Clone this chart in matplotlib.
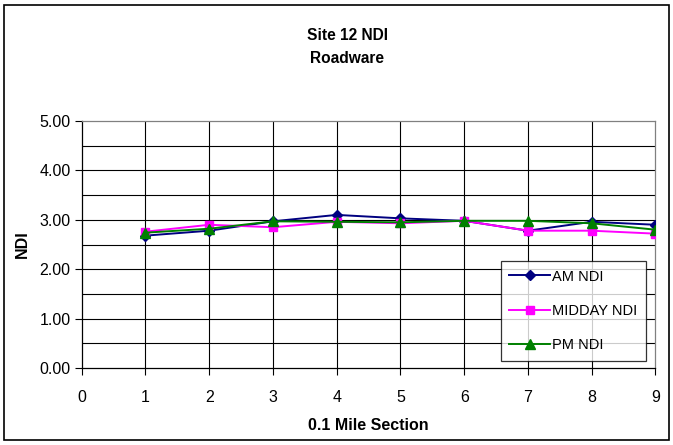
"""Site 12 NDI - Roadware line chart."""

import matplotlib
matplotlib.use('Agg')

import matplotlib.pyplot as plt
from matplotlib.patches import Rectangle

plt.rcParams['font.family'] = ['Liberation Sans', 'DejaVu Sans']

# ── Data ────────────────────────────────────────────────────────────────
sections = [1, 2, 3, 4, 5, 6, 7, 8, 9]
am_ndi = [2.68, 2.78, 2.97, 3.10, 3.03, 2.98, 2.78, 2.96, 2.90]
midday_ndi = [2.76, 2.90, 2.85, 2.96, 2.93, 2.98, 2.78, 2.78, 2.72]
pm_ndi = [2.74, 2.82, 2.97, 2.96, 2.95, 2.98, 2.98, 2.93, 2.80]

x_ticks = [0, 1, 2, 3, 4, 5, 6, 7, 8, 9]
y_ticks = [0.0, 1.0, 2.0, 3.0, 4.0, 5.0]
y_minor = [0.5, 1.5, 2.5, 3.5, 4.5]


def main() -> None:
    fig = plt.figure(figsize=(6.73, 4.45), dpi=100)
    ax = fig.add_axes([0.1214, 0.173, 0.8525, 0.555])

    # grid
    for y in y_ticks[1:-1] + y_minor:
        ax.axhline(y, color='black', lw=0.8, zorder=1)
    for x in x_ticks[1:-1]:
        ax.axvline(x, color='black', lw=0.8, zorder=1)

    ax.plot(sections, am_ndi, color='#000080', marker='D', markersize=5.5,
            lw=1.4, label='AM NDI', zorder=3)
    ax.plot(sections, midday_ndi, color='#FF00FF', marker='s', markersize=6,
            lw=1.4, label='MIDDAY NDI', zorder=3)
    ax.plot(sections, pm_ndi, color='#008000', marker='^', markersize=7.5,
            lw=1.4, label='PM NDI', zorder=4)

    ax.set_xlim(0, 9)
    ax.set_ylim(0, 5)
    ax.set_xticks(x_ticks)
    ax.set_yticks(y_ticks)
    ax.set_yticklabels([f'{v:.2f}' for v in y_ticks])
    ax.tick_params(axis='both', direction='out', length=5, width=0.8,
                   labelsize=11.5, pad=3, colors='black')
    ax.tick_params(axis='x', pad=11)

    for side in ('top', 'right'):
        ax.spines[side].set_color('#808080')
    for side in ('left', 'bottom'):
        ax.spines[side].set_color('black')
    for sp in ax.spines.values():
        sp.set_linewidth(0.9)

    ax.set_xlabel('0.1 Mile Section', fontsize=11.5, fontweight='bold', labelpad=9)
    ax.set_ylabel('NDI', fontsize=11.5, fontweight='bold', labelpad=7)

    fig.text(0.516, 0.921, 'Site 12 NDI', ha='center', va='center',
             fontsize=11.2, fontweight='bold')
    fig.text(0.516, 0.868, 'Roadware', ha='center', va='center',
             fontsize=11.2, fontweight='bold')

    leg = ax.legend(loc='lower left', bbox_to_anchor=(0.73, 0.028),
                    frameon=True, fancybox=False, fontsize=10.5,
                    handlelength=2.8, labelspacing=1.4, borderpad=0.6,
                    handletextpad=0.15, borderaxespad=0)
    leg.get_frame().set_edgecolor('black')
    leg.get_frame().set_linewidth(0.9)
    leg.set_zorder(5)

    # outer chart border
    fig.add_artist(Rectangle((0.006, 0.011), 0.988, 0.978, transform=fig.transFigure,
                             fill=False, edgecolor='black', lw=1.2))

    fig.savefig('out.png', dpi=100, facecolor='white')
    plt.close(fig)


if __name__ == "__main__":
    main()
